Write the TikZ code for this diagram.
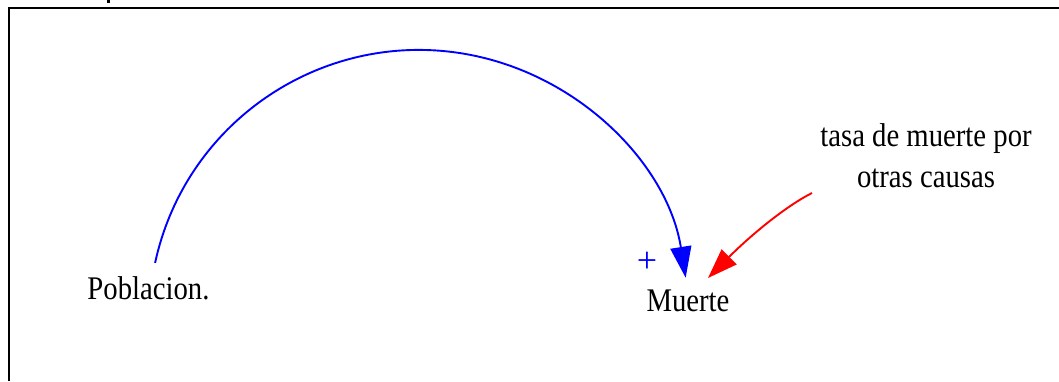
\documentclass[tikz,border=0pt]{standalone}
\usepackage{fontspec}
\setmainfont{Liberation Serif}
\newfontfamily\condserif[FakeStretch=0.87]{Liberation Serif}
\usetikzlibrary{arrows.meta}
\definecolor{vblue}{RGB}{0,0,255}
\definecolor{vred}{RGB}{255,0,0}
\tikzset{
  lbl/.style={font=\condserif\fontsize{33}{41}\selectfont, inner sep=0pt, text=black},
  linkpos/.style={draw=vblue, line width=1.9pt, -{Triangle[length=31pt,width=21pt]}},
  linkred/.style={draw=vred, line width=1.9pt, -{Triangle[length=30pt,width=21pt]}},
  frame/.style={draw=black, line width=1.4pt},
  polarity/.style={font=\fontsize{36}{36}\selectfont, text=vblue, inner sep=0pt}
}
\begin{document}
\begin{tikzpicture}[x=1pt,y=-1pt]
\useasboundingbox (0,0) rectangle (1059,381);
% frame
\draw[frame] (9,381) -- (9,8) -- (1060,8);
\fill[black] (106.5,0) rectangle (109.5,3);
% nodes
\node[lbl, anchor=base] (pob) at (148.5,299) {Poblacion.};
\node[lbl, anchor=base] (muerte) at (688,311.5) {Muerte};
\node[lbl, anchor=base, align=center] (tasa) at (926,187) {tasa de muerte por\\otras causas};
\node[polarity] (plus) at (647,262) {+};
% connector end points
\coordinate (pobout) at (155.1,262.9);
\coordinate (tasaout) at (812,193);
% links
\draw[linkpos] (pobout) arc[start angle=-167.8, end angle=-9, radius=270];
\draw[linkred] (tasaout) .. controls (786.7,205.7) and (752,234) .. (708,278);
\end{tikzpicture}
\end{document}
